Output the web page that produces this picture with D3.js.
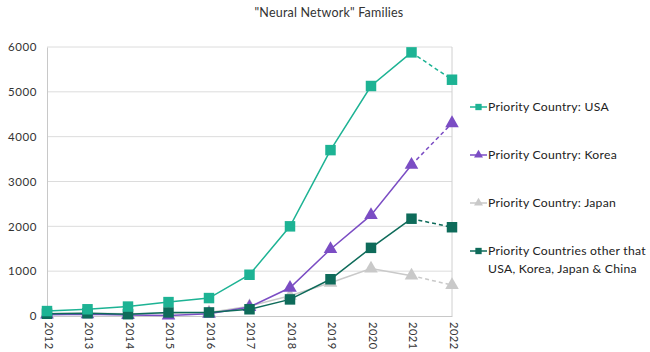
<!DOCTYPE html>
<html><head><meta charset="utf-8">
<script src="https://cdn.jsdelivr.net/npm/d3@7"></script>
<style>body{margin:0;background:#fff}svg{display:block;font-family:Lato,"Noto Sans",sans-serif}</style>
</head><body><svg id="c" width="650" height="352"></svg>
<script>
const years = ["2012","2013","2014","2015","2016","2017","2018","2019","2020","2021","2022"];
const usa    = [110,150,210,310,400,920,2000,3700,5130,5880,5270];
const korea  = [30,40,20,10,50,200,630,1490,2250,3370,4300];
const japan  = [50,60,50,60,80,220,450,740,1060,900,690];
const other  = [50,60,40,80,80,150,370,820,1520,2170,1980];
const yTicks = [0,1000,2000,3000,4000,5000,6000];
const seriesNames = ["Priority Country: USA","Priority Country: Korea","Priority Country: Japan","Priority Countries other that|USA, Korea, Japan & China"];
const seriesColors = ["#1db394","#7b4dc4","#c9c9c9","#0e6b5a"];
const seriesShapes = ["square","triangle","triangle","square"];
const title = "\"Neural Network\" Families";

const svg = d3.select("#c");
const x = d3.scalePoint().domain(years).range([47,452]);
const y = d3.scaleLinear().domain([0,6000]).range([316,47]);

svg.append("text").attr("x",329).attr("y",17).attr("text-anchor","middle")
  .attr("font-size",12.5).attr("letter-spacing",0.2).attr("fill","#333").text(title);

// gridlines
svg.append("g").selectAll("line").data(yTicks.filter(d=>d>0)).join("line")
  .attr("x1",47).attr("x2",452).attr("y1",d=>y(d)).attr("y2",d=>y(d))
  .attr("stroke","#dcdcdc").attr("stroke-width",1);

// y axis
const ya = svg.append("g").attr("transform","translate(47,0)").call(d3.axisLeft(y).tickValues(yTicks).tickSize(0).tickPadding(10).tickFormat(d3.format("d")));
ya.select(".domain").attr("stroke","#c8c8c8");
ya.selectAll("text").attr("font-size",11.5).attr("letter-spacing",0.6).attr("fill","#333").attr("font-family","Lato,'Noto Sans',sans-serif");
svg.append("line").attr("x1",452).attr("x2",452).attr("y1",47).attr("y2",316).attr("stroke","#d0d0d0");

// x axis
const xa = svg.append("g").attr("transform","translate(0,316)").call(d3.axisBottom(x).tickSize(0).tickPadding(0));
xa.select(".domain").attr("stroke","#c8c8c8");
xa.selectAll("text").attr("font-size",11).attr("letter-spacing",0.5).attr("fill","#333").attr("font-family","Lato,'Noto Sans',sans-serif")
  .attr("text-anchor","start").attr("dy",null).attr("dominant-baseline","middle").attr("x",0).attr("y",0)
  .attr("transform","translate(0,6) rotate(90)");

const allSeries = [usa,korea,japan,other];
const sym = s => s==="square" ? d3.symbolSquare : d3.symbolTriangle;

const order = [2,1,3,0];
order.forEach(k=>{
  const vals = allSeries[k], col = seriesColors[k];
  svg.append("path").datum(vals.slice(0,10))
    .attr("d", d3.line().x((d,i)=>x(years[i])).y(d=>y(d)))
    .attr("fill","none").attr("stroke",col).attr("stroke-width",1.5);
  svg.append("path").datum([[years[9],vals[9]],[years[10],vals[10]]])
    .attr("d", d3.line().x(d=>x(d[0])).y(d=>y(d[1])))
    .attr("fill","none").attr("stroke",col).attr("stroke-width",1.5).attr("stroke-dasharray","4,3");
  const size = seriesShapes[k]==="square" ? 110 : 80;
  svg.append("g").selectAll("path").data(vals).join("path")
    .attr("transform",(d,i)=>`translate(${x(years[i])},${y(d)})`)
    .attr("d", d3.symbol().type(sym(seriesShapes[k])).size(size))
    .attr("fill",col);
});

// legend
const legY = [107,155,203,251];
seriesNames.forEach((n,k)=>{
  const g = svg.append("g").attr("transform",`translate(470,${legY[k]})`);
  g.append("line").attr("x1",0).attr("x2",17).attr("y1",0).attr("y2",0).attr("stroke",seriesColors[k]).attr("stroke-width",1.5);
  g.append("path").attr("transform","translate(8.5,0)").attr("d",d3.symbol().type(sym(seriesShapes[k])).size(seriesShapes[k]==="square"?40:35)).attr("fill",seriesColors[k]);
  const t = g.append("text").attr("x",18).attr("y",0).attr("font-size",12.2).attr("letter-spacing",0.25).attr("fill","#222");
  n.split("|").forEach((s,j)=>{
    t.append("tspan").attr("x",18).attr("dy", j===0 ? "0.35em" : "1.42em").text(s);
  });
});
</script></body></html>
